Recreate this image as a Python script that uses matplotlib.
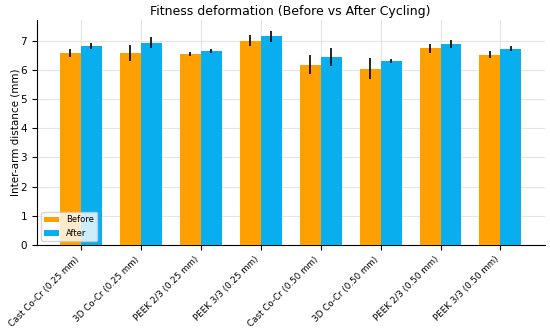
import numpy as np
import matplotlib
matplotlib.use("Agg")
import matplotlib.pyplot as plt

groups = ["Cast Co-Cr (0.25 mm)", "3D Co-Cr (0.25 mm)", "PEEK 2/3 (0.25 mm)", "PEEK 3/3 (0.25 mm)",
          "Cast Co-Cr (0.50 mm)", "3D Co-Cr (0.50 mm)", "PEEK 2/3 (0.50 mm)", "PEEK 3/3 (0.50 mm)"]
before = [6.57, 6.58, 6.55, 6.99, 6.17, 6.04, 6.74, 6.52]
before_err = [0.13, 0.27, 0.07, 0.19, 0.32, 0.35, 0.15, 0.12]
after = [6.81, 6.93, 6.64, 7.14, 6.43, 6.30, 6.89, 6.72]
after_err = [0.11, 0.18, 0.08, 0.20, 0.31, 0.07, 0.14, 0.08]

x = np.arange(len(groups))
w = 0.35

fig, ax = plt.subplots(figsize=(5.5, 3.29), dpi=100)
ax.bar(x - w / 2, before, w, yerr=before_err, color="#ffa000", label="Before",
       error_kw=dict(ecolor="black", elinewidth=1.2), zorder=3)
ax.bar(x + w / 2, after, w, yerr=after_err, color="#08aeee", label="After",
       error_kw=dict(ecolor="black", elinewidth=1.2), zorder=3)

ax.set_title("Fitness deformation (Before vs After Cycling)", fontsize=9, pad=3.5)
ax.set_ylabel("Inter-arm distance (mm)", fontsize=7.5, labelpad=0)
ax.set_xticks(x)
ax.set_xticklabels(groups, rotation=45, ha="right", fontsize=6.3)
ax.tick_params(axis="y", labelsize=7.5)
ax.set_yticks(range(0, 8))
ax.set_ylim(0, 7.7)
ax.grid(True, color="#e4e4e4", linewidth=0.8, zorder=0)
ax.spines["top"].set_visible(False)
ax.spines["right"].set_visible(False)
ax.legend(loc="lower left", fontsize=6, handlelength=1.8)

fig.subplots_adjust(left=0.067, right=0.99, top=0.939, bottom=0.255)
fig.savefig("out.png")
